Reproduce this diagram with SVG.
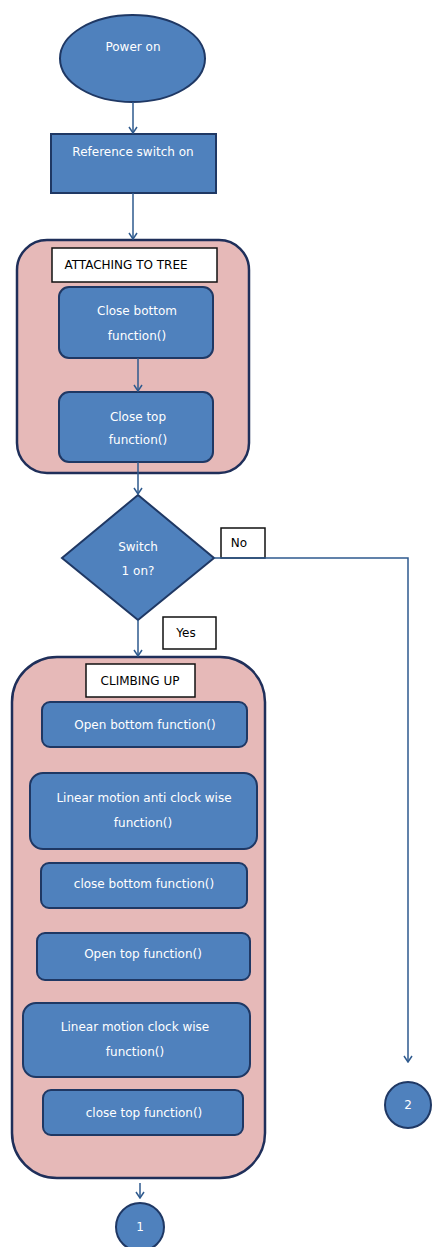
<svg xmlns="http://www.w3.org/2000/svg" width="432" height="1247" viewBox="0 0 432 1247">
  <style>
    .proc { fill: #4F81BD; stroke: #1F3864; stroke-width: 2; }
    .group { fill: #E6B9B8; stroke: #1F2F5A; stroke-width: 2.5; }
    .tag { fill: #FFFFFF; stroke: #111111; stroke-width: 1.5; }
    .wt { font-family: "DejaVu Sans", "Liberation Sans", sans-serif; font-size: 12px; fill: #FFFFFF; text-anchor: middle; }
    .bt { font-family: "DejaVu Sans", "Liberation Sans", sans-serif; font-size: 12px; fill: #000000; text-anchor: middle; }
    .conn { fill: none; stroke: #2E5A8E; stroke-width: 1.5; }
  </style>
  <defs>
    <marker id="arrow" viewBox="0 0 10 10" refX="9" refY="5" markerWidth="10" markerHeight="10" markerUnits="userSpaceOnUse" orient="auto">
      <polyline points="3,1 9,5 3,9" fill="none" stroke="#2E5A8E" stroke-width="1.5"/>
    </marker>
  </defs>
  <rect width="432" height="1247" fill="#FFFFFF"/>

  <!-- start -->
  <g id="power-on">
    <ellipse class="proc" cx="132.5" cy="58.5" rx="72.5" ry="43.5"/>
    <text class="wt" x="133" y="51">Power on</text>
  </g>

  <g id="reference-switch">
    <rect class="proc" x="51" y="134" width="165" height="59"/>
    <text class="wt" x="133" y="156">Reference  switch on</text>
  </g>

  <!-- attaching group -->
  <g id="attaching-to-tree">
    <rect class="group" x="17" y="240" width="232" height="233" rx="30" ry="30"/>
    <rect class="tag" x="52" y="248" width="165" height="34"/>
    <text class="bt" x="126" y="269">ATTACHING TO TREE</text>
  </g>

  <g id="close-bottom">
    <rect class="proc" x="59" y="287" width="154" height="71" rx="10" ry="10"/>
    <text class="wt" x="137" y="315">Close bottom</text>
    <text class="wt" x="137" y="340">function()</text>
  </g>

  <g id="close-top">
    <rect class="proc" x="59" y="392" width="154" height="70" rx="10" ry="10"/>
    <text class="wt" x="138" y="421">Close top</text>
    <text class="wt" x="138" y="444">function()</text>
  </g>

  <!-- decision -->
  <g id="switch-1">
    <polygon class="proc" points="138,495 214,558 138,620 62,558"/>
    <text class="wt" x="138" y="551">Switch</text>
    <text class="wt" x="138" y="575">1 on?</text>
  </g>

  <g id="label-no">
    <rect class="tag" x="221" y="528" width="44" height="30"/>
    <text class="bt" x="239" y="547">No</text>
  </g>

  <g id="label-yes">
    <rect class="tag" x="163" y="617" width="53" height="32"/>
    <text class="bt" x="186" y="637">Yes</text>
  </g>

  <!-- climbing group -->
  <g id="climbing-up">
    <rect class="group" x="12" y="657" width="253" height="521" rx="45" ry="45"/>
    <rect class="tag" x="86" y="664" width="109" height="33"/>
    <text class="bt" x="140" y="685">CLIMBING  UP</text>
  </g>

  <g id="open-bottom">
    <rect class="proc" x="42" y="702" width="205" height="45" rx="8" ry="8"/>
    <text class="wt" x="145" y="729">Open bottom function()</text>
  </g>

  <g id="linear-anticlockwise">
    <rect class="proc" x="30" y="773" width="227" height="76" rx="13" ry="13"/>
    <text class="wt" x="144" y="802">Linear motion  anti clock wise</text>
    <text class="wt" x="143" y="827">function()</text>
  </g>

  <g id="close-bottom-2">
    <rect class="proc" x="41" y="863" width="206" height="45" rx="8" ry="8"/>
    <text class="wt" x="144" y="888">close bottom function()</text>
  </g>

  <g id="open-top">
    <rect class="proc" x="37" y="933" width="213" height="47" rx="8" ry="8"/>
    <text class="wt" x="143" y="958">Open top function()</text>
  </g>

  <g id="linear-clockwise">
    <rect class="proc" x="23" y="1003" width="227" height="74" rx="13" ry="13"/>
    <text class="wt" x="135" y="1031">Linear motion clock wise</text>
    <text class="wt" x="135" y="1056">function()</text>
  </g>

  <g id="close-top-2">
    <rect class="proc" x="43" y="1090" width="200" height="45" rx="8" ry="8"/>
    <text class="wt" x="144" y="1117">close top function()</text>
  </g>

  <!-- off-page connectors -->
  <g id="connector-1">
    <circle class="proc" cx="140" cy="1227" r="24"/>
    <text class="wt" x="140" y="1231">1</text>
  </g>

  <g id="connector-2">
    <circle class="proc" cx="408" cy="1105" r="23"/>
    <text class="wt" x="408" y="1109">2</text>
  </g>

  <!-- connectors, drawn last so they sit on top of the group panels -->
  <g id="connectors">
    <line class="conn" x1="133" y1="102" x2="133" y2="133" marker-end="url(#arrow)"/>
    <line class="conn" x1="133" y1="193" x2="133" y2="239" marker-end="url(#arrow)"/>
    <line class="conn" x1="138" y1="358" x2="138" y2="391" marker-end="url(#arrow)"/>
    <line class="conn" x1="138" y1="462" x2="138" y2="494" marker-end="url(#arrow)"/>
    <line class="conn" x1="138" y1="620" x2="138" y2="656" marker-end="url(#arrow)"/>
    <polyline class="conn" points="214,558 408,558 408,1062" marker-end="url(#arrow)"/>
    <line class="conn" x1="140" y1="1183" x2="140" y2="1198" marker-end="url(#arrow)"/>
  </g>
</svg>
